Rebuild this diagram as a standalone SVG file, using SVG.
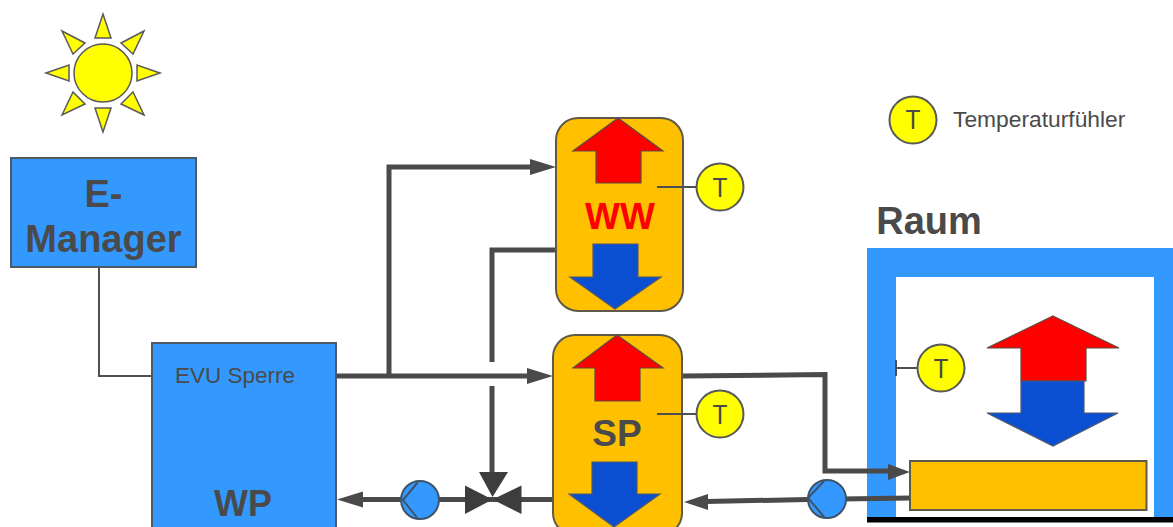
<svg xmlns="http://www.w3.org/2000/svg" width="1173" height="527" viewBox="0 0 1173 527">
<style>
text{font-family:"Liberation Sans",Arial,sans-serif;fill:#4a4a4a}
.b{font-weight:bold;text-anchor:middle}
.box{fill:#3399ff;stroke:#4d5a66;stroke-width:2}
.tank{fill:#ffc000;stroke:#5f5a48;stroke-width:2}
.hot{fill:#ff0000;stroke:#5f4a40;stroke-width:1.2}
.cold{fill:#0a4fd2;stroke:#50586a;stroke-width:1.2}
.sun{fill:#ffff00;stroke:#595959;stroke-width:1.5}
.sensor{fill:#ffff00;stroke:#595959;stroke-width:2}
.tl{font-family:Roboto,"Liberation Sans",sans-serif;font-weight:400;font-size:25px;text-anchor:middle}
.pipe{fill:none;stroke:#4a4a4a;stroke-width:5}
.thin{fill:none;stroke:#4f4f4f;stroke-width:2}
.head{fill:#4a4a4a}
.pump{fill:#3399ff;stroke:#3f5468;stroke-width:2}
.chev{fill:none;stroke:#3f5468;stroke-width:2}
</style>
<rect width="1173" height="527" fill="#fff"/>
<g id="sun">
<circle class="sun" cx="103" cy="73" r="29"/>
<polygon class="sun" points="103,14 95,38 111,38"/>
<polygon class="sun" points="103,132 95,108 111,108"/>
<polygon class="sun" points="46,73 69,65 69,81"/>
<polygon class="sun" points="160,73 137,65 137,81"/>
<polygon class="sun" points="62,31 85,43 73,54"/>
<polygon class="sun" points="144,31 121,43 133,54"/>
<polygon class="sun" points="62,115 73,92 85,104"/>
<polygon class="sun" points="144,115 121,104 133,92"/>
</g>
<g id="raum">
<path d="M867 248H1173V517H1154V277H896V517H867Z" fill="#3399ff"/>
<rect x="867" y="517" width="306" height="5.500" fill="#000"/>
<text class="b" x="929" y="234" font-size="38">Raum</text>
<polygon class="hot" points="1053,316 1119,348 1086,348 1086,381 1021,381 1021,348 987,348"/>
<polygon class="cold" points="1021,381 1084,381 1084,413 1118,413 1053,446 987,413 1021,413"/>
</g>
<g id="connectors">
<path class="thin" d="M99 267V376H152"/>
<path class="pipe" d="M389 376V167H532"/>
<polygon class="head" points="556,167 530,159 530,175"/>
<path class="pipe" d="M556 250H492V474"/>
<rect x="480" y="362" width="20" height="24" fill="#fff"/>
<path class="pipe" d="M336 376H530"/>
<polygon class="head" points="553,376 527,368 527,384"/>
<path class="pipe" d="M552 499.500H360"/>
<polygon class="head" points="337,499.500 363,491.500 363,507.500"/>
<polygon fill="#3d3d3d" points="479,472 508,472 492.500,497"/>
<polygon fill="#3d3d3d" points="465,485.500 465,514 492.500,499.500"/>
<polygon fill="#3d3d3d" points="521.500,485.500 521.500,514 492.500,499.500"/>
<path class="pipe" d="M682 376L825 374.500V471H890"/>
<polygon class="head" points="910,472 888,464 888,480"/>
<path class="pipe" d="M910 498L808 499.500L706 501.500"/>
<polygon class="head" points="684,502 708,494 708,510"/>
<path class="thin" d="M896 368H918M896 360V376"/>
</g>
<g id="e-manager">
<rect class="box" x="11" y="158" width="185" height="109"/>
<text class="b" x="103.500" y="207" font-size="38">E-</text>
<text class="b" x="103.500" y="252" font-size="38">Manager</text>
</g>
<g id="wp">
<rect class="box" x="152" y="343" width="184" height="200"/>
<text x="175" y="383" font-size="22.500">EVU Sperre</text>
<text class="b" x="243" y="516" font-size="36">WP</text>
</g>
<g id="ww">
<rect class="tank" x="556" y="118" width="127" height="193" rx="22"/>
<polygon class="hot" points="618,118 663,151 641,151 641,183 596,183 596,151 573,151"/>
<polygon class="cold" points="593,244 638,244 638,277 661,277 615,309 570,277 593,277"/>
<text class="b" x="620" y="229" font-size="37" style="fill:#ff0000">WW</text>
</g>
<g id="sp">
<rect class="tank" x="553" y="335" width="129" height="200" rx="22"/>
<polygon class="hot" points="617,335 663,368 640,368 640,401 595,401 595,368 573,368"/>
<polygon class="cold" points="592,462 637,462 637,494 660,494 614,527 569,494 592,494"/>
<text class="b" x="617" y="446" font-size="37">SP</text>
</g>
<path class="thin" d="M657 187H697M657 414H696"/>
<g id="radiator">
<rect class="tank" x="910" y="461" width="236.500" height="49"/>
</g>
<g id="pump-1">
<circle class="pump" cx="420" cy="500" r="19"/>
<path class="chev" d="M418 482L403 500L418 519"/>
</g>
<g id="pump-2">
<circle class="pump" cx="827" cy="499" r="19"/>
<path class="chev" d="M825 480L808 498L825 518"/>
</g>
<g id="t-ww">
<circle class="sensor" cx="720" cy="187" r="23.500"/>
<text class="tl" x="720" y="197">T</text>
</g>
<g id="t-sp">
<circle class="sensor" cx="720" cy="414" r="23.500"/>
<text class="tl" x="720" y="424">T</text>
</g>
<g id="t-raum">
<circle class="sensor" cx="941" cy="368" r="23.500"/>
<text class="tl" x="941" y="378">T</text>
</g>
<g id="legend">
<circle class="sensor" cx="913" cy="120" r="23.500"/>
<text class="tl" x="913" y="129">T</text>
<text x="953" y="127" font-size="22.800">Temperaturfühler</text>
</g>
</svg>
